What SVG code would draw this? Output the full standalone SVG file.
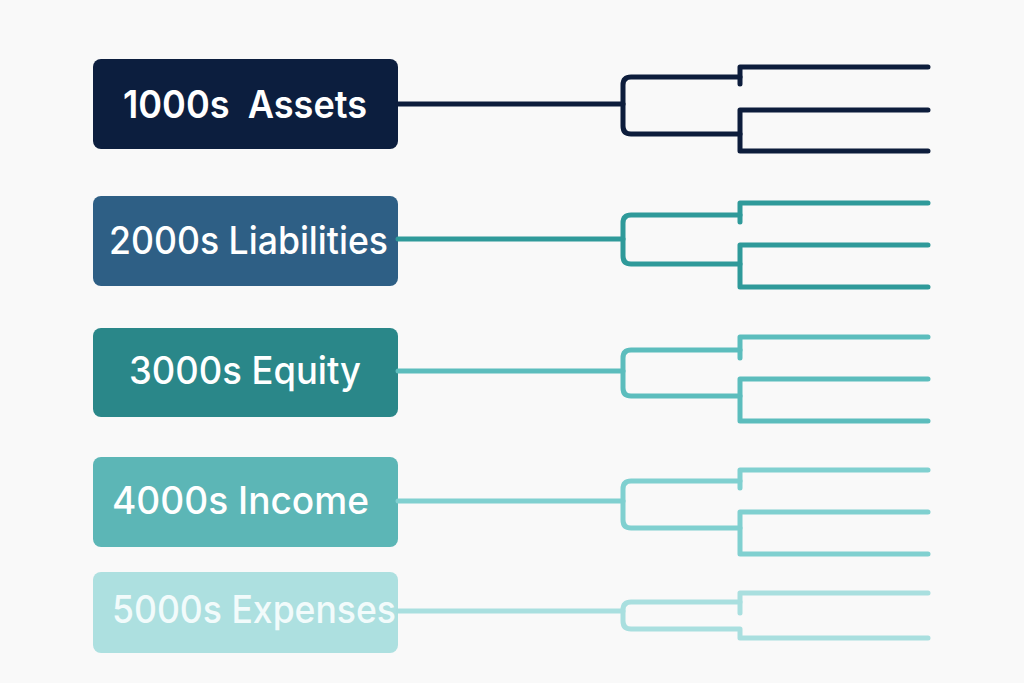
<svg xmlns="http://www.w3.org/2000/svg" width="1024" height="683" viewBox="0 0 1024 683">
<style>
.box{stroke:none}
.lbl{font-family:Inter,"Noto Sans","Liberation Sans",sans-serif;font-size:38px;font-weight:500;fill:#ffffff}
.con path{fill:none;stroke-width:5;stroke-linecap:round;stroke-linejoin:round}
.main{stroke-width:4.5}
</style>
<rect width="1024" height="683" fill="#f9f9f9"/>
<g id="node-assets">
<rect class="box" x="93" y="59" width="305" height="90" rx="8" fill="#0c1e3e"/>
<text class="lbl" x="123" y="118" textLength="244" lengthAdjust="spacingAndGlyphs" xml:space="preserve" style="font-weight:600">1000s  Assets</text>
</g>
<g id="node-liabilities">
<rect class="box" x="93" y="196" width="305" height="90" rx="8" fill="#2e5f85"/>
<text class="lbl" x="109" y="254" textLength="279" lengthAdjust="spacingAndGlyphs">2000s Liabilities</text>
</g>
<g id="node-equity">
<rect class="box" x="93" y="328" width="305" height="89" rx="8" fill="#2a8789"/>
<text class="lbl" x="129" y="384" textLength="232" lengthAdjust="spacingAndGlyphs">3000s Equity</text>
</g>
<g id="node-income">
<rect class="box" x="93" y="457" width="305" height="90" rx="8" fill="#5cb6b6"/>
<text class="lbl" x="112" y="514" textLength="257" lengthAdjust="spacingAndGlyphs">4000s Income</text>
</g>
<g id="node-expenses">
<rect class="box" x="93" y="572" width="305" height="81" rx="8" fill="#ade0e0"/>
<text class="lbl" x="112" y="623" textLength="284" lengthAdjust="spacingAndGlyphs" style="fill:#f2fbfb">5000s Expenses</text>
</g>
<g id="connectors" class="con">
<g stroke="#0d1d3c">
<path class="main" d="M398,104 H623"/>
<path d="M740,77 H631 Q623,77 623,85 V126 Q623,134 631,134 H740"/>
<path d="M740,84 V67 H928"/>
<path d="M928,110 H740 V151 H928"/>
</g>
<g stroke="#2f9a9a">
<path class="main" d="M398,239 H623"/>
<path d="M740,215 H631 Q623,215 623,223 V256 Q623,264 631,264 H740"/>
<path d="M740,222 V203 H928"/>
<path d="M928,245 H740 V287 H928"/>
</g>
<g stroke="#5cbdbd">
<path class="main" d="M398,371 H623"/>
<path d="M740,350 H631 Q623,350 623,358 V388 Q623,396 631,396 H740"/>
<path d="M740,358 V337 H928"/>
<path d="M928,379 H740 V421 H928"/>
</g>
<g stroke="#80d0d0">
<path class="main" d="M398,501 H623"/>
<path d="M740,481 H631 Q623,481 623,489 V520 Q623,528 631,528 H740"/>
<path d="M740,488 V470 H928"/>
<path d="M928,512 H740 V554 H928"/>
</g>
<g stroke="#a9dfdf">
<path class="main" d="M398,611 H623"/>
<path d="M740,602 H631 Q623,602 623,610 V621 Q623,629 631,629 H740 V638 H928"/>
<path d="M740,613 V593 H928"/>
</g>
</g>
</svg>
